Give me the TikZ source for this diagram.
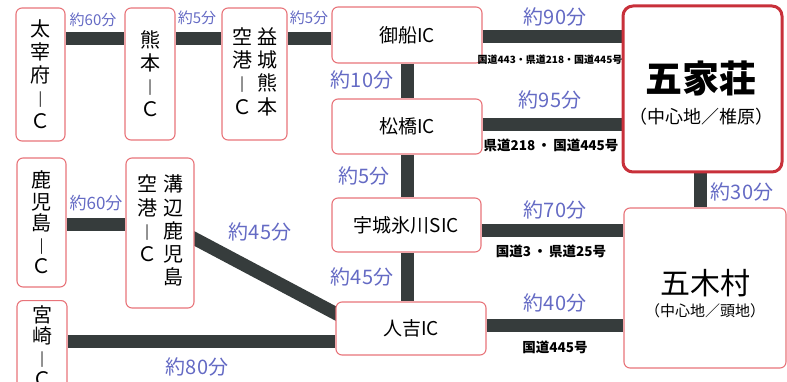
\documentclass[tikz,border=0pt]{standalone}
\usepackage{fontspec}
\setmainfont{Noto Sans CJK JP}
\usetikzlibrary{backgrounds}
\definecolor{roadc}{RGB}{54,60,60}
\definecolor{lblc}{RGB}{100,106,196}
\definecolor{boxc}{RGB}{232,116,122}
\definecolor{mainc}{RGB}{200,48,58}
\newcommand\vbar{\raisebox{0pt}{\scalebox{1}[0.78]{｜}}}
\begin{document}
\begin{tikzpicture}[x=1pt,y=-1pt,
  box/.style={draw=boxc,line width=1.1pt,fill=white,rounded corners=6pt,inner sep=0pt},
  road/.style={draw=roadc,line width=13pt},
  lbl/.style={text=lblc,font=\fontsize{20}{22}\selectfont,inner sep=0pt},
  slbl/.style={text=lblc,font=\fontsize{15}{17}\selectfont,inner sep=0pt},
  rte/.style={font=\bfseries\fontsize{10}{12}\selectfont,inner sep=0pt},
  rtem/.style={font=\bfseries\fontsize{13.5}{15}\selectfont,inner sep=0pt},
  vt/.style={font=\fontsize{20}{23}\selectfont,align=center},
  vtn/.style={font=\fontsize{20}{21.5}\selectfont,align=center},
  ic/.style={font=\fontsize{19}{22}\selectfont}]
\useasboundingbox (0,0) rectangle (787,382);
\clip (0,0) rectangle (787,382);

% coordinates
\coordinate (rowA) at (0,39);
\coordinate (rowB) at (0,37);
\coordinate (rowC) at (0,125);
\coordinate (rowD) at (0,231);
\coordinate (rowE) at (0,325);
\coordinate (rowF) at (0,225);
\coordinate (rowG) at (0,341);
\coordinate (diagA) at (0,236);
\coordinate (diagB) at (0,316);
\coordinate (colX) at (407,0);
\coordinate (colY) at (700,0);

% boxes
\node[box,vt,minimum width=49pt,minimum height=133pt] (dazaifu) at (40.5,74.5) {太\\宰\\府\\\vbar\\Ｃ};
\node[box,vt,minimum width=50pt,minimum height=132pt] (kumamoto) at (150,74) {熊\\本\\\vbar\\Ｃ};
\node[box,vtn,minimum width=65pt,minimum height=132pt] (mashiki) at (254.5,74)
  {\begin{tabular}{@{}c@{\hspace{5pt}}c@{}}空&益\\港&城\\\vbar&熊\\Ｃ&本\end{tabular}};
\node[box,vtn,minimum width=49pt,minimum height=129pt] (kagoshima) at (41.5,222.5) {鹿\\児\\島\\\vbar\\Ｃ};
\node[box,vtn,minimum width=68pt,minimum height=150pt] (mizobe) at (160,233)
  {\begin{tabular}{@{}c@{\hspace{6pt}}c@{}}空&溝\\港&辺\\\vbar&鹿\\Ｃ&児\\&島\end{tabular}};
\node[box,minimum width=50pt,minimum height=110pt,anchor=north] (miyazaki) at (42,300) {};
\node[vtn,anchor=north,inner sep=0pt] (miyazakit) at (42,305) {宮\\崎\\\vbar\\Ｃ};

\node[box,ic,minimum width=150pt,minimum height=56pt] (mifune) at (407,35) {御船IC};
\node[box,ic,minimum width=150pt,minimum height=55pt] (matsubase) at (407,126.5) {松橋IC};
\node[box,ic,minimum width=149pt,minimum height=54pt] (ukihikawa) at (406.5,225) {宇城氷川SIC};
\node[box,ic,minimum width=150pt,minimum height=53pt] (hitoyoshi) at (411,328.5) {人吉IC};

\node[box,draw=mainc,line width=3pt,rounded corners=10pt,minimum width=159pt,minimum height=166pt] (gokasho) at (702.5,89) {};
\node[font=\bfseries\fontsize{37}{40}\selectfont,inner sep=0pt] (gokashot) at (701,78) {五家荘};
\node[font=\fontsize{18}{20}\selectfont,inner sep=0pt] (gokashos) at (701,117) {（中心地／椎原）};

\node[box,minimum width=162pt,minimum height=160pt] (itsuki) at (705,288) {};
\node[font=\fontsize{30}{34}\selectfont,inner sep=0pt] (itsukit) at (705,283) {五木村};
\node[font=\fontsize{15}{17}\selectfont,inner sep=0pt] (itsukis) at (705,311) {（中心地／頭地）};

% roads
\begin{pgfonlayer}{background}
\draw[road] (dazaifu.east |- rowA) -- (kumamoto.west |- rowA);
\draw[road] (kumamoto.east |- rowA) -- (mashiki.west |- rowA);
\draw[road] (mashiki.east |- rowA) -- (mifune.west |- rowA);
\draw[road] (mifune.east |- rowB) -- (gokasho.west |- rowB);
\draw[road] (matsubase.east |- rowC) -- (gokasho.west |- rowC);
\draw[road] (mifune.south -| colX) -- (matsubase.north -| colX);
\draw[road] (matsubase.south -| colX) -- (ukihikawa.north -| colX);
\draw[road] (ukihikawa.south -| colX) -- (hitoyoshi.north -| colX);
\draw[road] (ukihikawa.east |- rowD) -- (itsuki.west |- rowD);
\draw[road] (hitoyoshi.east |- rowE) -- (itsuki.west |- rowE);
\draw[road] (gokasho.south -| colY) -- (itsuki.north -| colY);
\draw[road] (kagoshima.east |- rowF) -- (mizobe.west |- rowF);
\draw[road] ([xshift=-5pt]mizobe.east |- diagA) -- ([xshift=5pt]hitoyoshi.west |- diagB);
\draw[road] (miyazaki.east |- rowG) -- (hitoyoshi.west |- rowG);
\end{pgfonlayer}

% time labels
\node[slbl] (t1) at (93,20) {約60分};
\node[slbl] (t2) at (197,18) {約5分};
\node[slbl] (t3) at (309,18) {約5分};
\node[lbl] (t4) at (555,17) {約90分};
\node[lbl] (t5) at (362,80) {約10分};
\node[lbl] (t6) at (550,100) {約95分};
\node[lbl] (t7) at (364,176) {約5分};
\node[lbl] (t8) at (742,192) {約30分};
\node[lbl] (t9) at (555,210) {約70分};
\node[lbl] (t10) at (362,277) {約45分};
\node[lbl] (t11) at (555,303) {約40分};
\node[slbl,font=\fontsize{17}{19}\selectfont] (t12) at (96,203) {約60分};
\node[lbl] (t13) at (260,232) {約45分};
\node[lbl] (t14) at (197,367) {約80分};

% route labels
\node[rte] (r1) at (550,60) {国道443・県道218・国道445号};
\node[rtem] (r2) at (551,145) {県道218\,・\,国道445号};
\node[rtem] (r3) at (551,251) {国道3\,・\,県道25号};
\node[rtem] (r4) at (555,347) {国道445号};
\end{tikzpicture}
\end{document}
